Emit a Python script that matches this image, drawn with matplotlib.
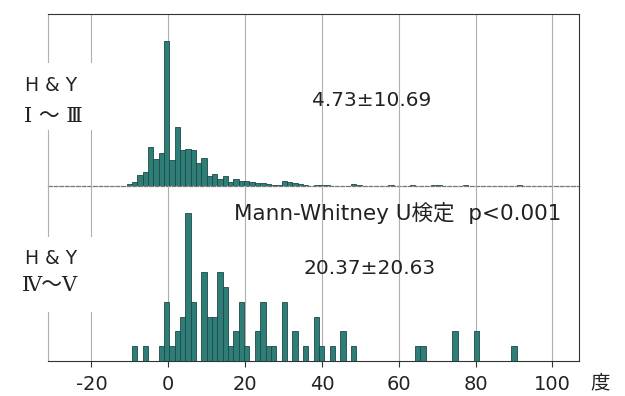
import numpy as np
import matplotlib
matplotlib.use("Agg")
import matplotlib.pyplot as plt
from matplotlib.patches import Rectangle

plt.rcParams["axes.unicode_minus"] = False

# histogram bins (degrees): bin k covers first_edge + k*bin_width
bin_width = 1.39
first_edge = -1.1

# H&Y I-III
early_bins = [-7, -6, -5, -4, -3, -2, -1, 0, 1, 2, 3, 4, 5, 6, 7, 8, 9, 10,
              11, 12, 13, 14, 15, 16, 17, 18, 19, 20, 21, 22, 23, 24, 25, 26,
              28, 29, 30, 35, 36, 42, 46, 50, 51, 56, 66]
early_counts = [2, 4, 11, 14, 39, 27, 33, 145, 26, 59, 36, 37, 36, 23, 28, 10, 12, 7,
                10, 4, 7, 5, 5, 4, 3, 3, 2, 1, 1, 5, 4, 3, 2, 1,
                1, 1, 1, 2, 1, 1, 1, 1, 1, 1, 1]

# H&Y IV-V
late_bins = [-6, -4, -1, 0, 1, 2, 3, 4, 5, 7, 8, 9, 10, 11, 12, 13, 14, 15,
             17, 18, 19, 20, 22, 24, 26, 28, 29, 31, 33, 35, 47, 48, 54, 58, 65]
late_counts = [1, 1, 1, 4, 1, 2, 3, 10, 4, 6, 3, 3, 6, 5, 1, 2, 4, 1,
               2, 4, 1, 1, 4, 2, 1, 3, 1, 1, 2, 1, 1, 1, 2, 2, 1]

xticks = [-20, 0, 20, 40, 60, 80, 100]
early_stat = "4.73±10.69"
late_stat = "20.37±20.63"
test_text = "Mann-Whitney U検定  p<0.001"

bar_color = "#2f7d77"
edge_color = "#1d4a47"
frame_color = "#333333"
grid_color = "#b0b0b0"
text_color = "#222222"
sans = ["DejaVu Sans", "Noto Sans CJK JP"]
roman = ["DejaVu Serif", "Noto Sans CJK JP"]

fig = plt.figure(figsize=(6.25, 3.96), dpi=100)
ax_top = fig.add_axes([0.0768, 0.5303, 0.8496, 0.4343])
ax_bot = fig.add_axes([0.0768, 0.0884, 0.8496, 0.4419], sharex=ax_top)
ax_bot.patch.set_visible(False)


def draw_hist(ax, bins, counts):
    left = first_edge + bin_width * np.asarray(bins)
    ax.bar(left, counts, width=bin_width, align="edge",
           color=bar_color, edgecolor=edge_color, linewidth=0.6, zorder=3)
    for x in xticks:
        ax.axvline(x, color=grid_color, linewidth=0.8, zorder=1)
    ax.set_yticks([])


draw_hist(ax_top, early_bins, early_counts)
draw_hist(ax_bot, late_bins, late_counts)

ax_top.set_xlim(-31.3, 106.9)
ax_top.set_ylim(0, 172)
ax_bot.set_ylim(0, 11.82)

# frame
for ax in (ax_top, ax_bot):
    ax.spines["right"].set_color(frame_color)
    ax.spines["left"].set_color(grid_color)
ax_top.spines["top"].set_color(frame_color)
ax_top.spines["bottom"].set_color("#777777")
ax_top.spines["bottom"].set_linestyle((0, (3, 1.5)))
ax_top.spines["bottom"].set_linewidth(0.9)
ax_top.spines["bottom"].set_zorder(4)
ax_top.tick_params(axis="x", length=0, labelbottom=False)
ax_bot.spines["top"].set_visible(False)
ax_bot.spines["bottom"].set_color(frame_color)

ax_bot.set_xticks(xticks)
ax_bot.tick_params(axis="x", length=4, color=frame_color, pad=6)
for lab in ax_bot.get_xticklabels():
    lab.set_family(sans)
    lab.set_fontsize(14)
    lab.set_color(text_color)

# white panels behind the group labels
for y0, h in [(63, 67), (237, 75)]:
    fig.patches.append(Rectangle((40 / 625, 1 - (y0 + h) / 396), 60 / 625, h / 396,
                                 transform=fig.transFigure, facecolor="white",
                                 edgecolor="none", zorder=5))

fig.text(0.082, 0.783, "H & Y", family=sans, fontsize=13.5, ha="center",
         va="center", color=text_color, zorder=6)
fig.text(0.086, 0.707, "Ⅰ ～ Ⅲ", family=roman, fontsize=15, ha="center",
         va="center", color=text_color, zorder=6)
fig.text(0.082, 0.348, "H & Y", family=sans, fontsize=13.5, ha="center",
         va="center", color=text_color, zorder=6)
fig.text(0.080, 0.280, "Ⅳ～Ⅴ", family=roman, fontsize=15, ha="center",
         va="center", color=text_color, zorder=6)

fig.text(0.594, 0.745, early_stat, family=sans, fontsize=14.5, ha="center",
         va="center", color=text_color)
fig.text(0.637, 0.462, test_text, family=sans, fontsize=15.5, ha="center",
         va="center", color=text_color)
fig.text(0.592, 0.323, late_stat, family=sans, fontsize=14.5, ha="center",
         va="center", color=text_color)
fig.text(0.96, 0.033, "度", family=["Noto Sans CJK JP"], fontsize=14,
         ha="center", va="center", color=text_color)

fig.savefig("out.png", dpi=100)
